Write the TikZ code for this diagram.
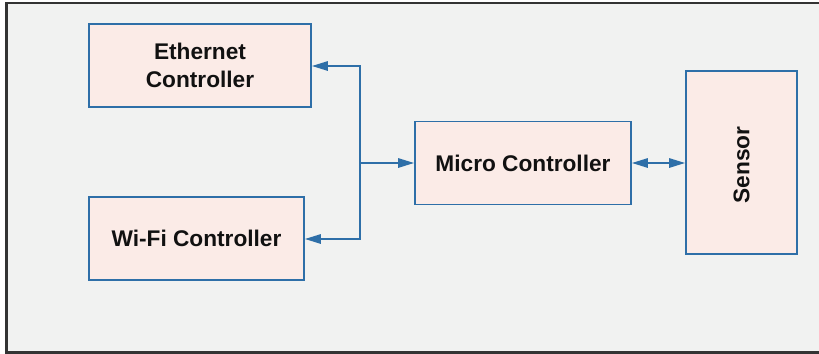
\documentclass[tikz,border=0pt]{standalone}
\usepackage{fontspec}
\setmainfont{Liberation Sans}
\usetikzlibrary{arrows.meta}
\definecolor{bgc}{HTML}{F1F2F1}
\definecolor{boxfill}{HTML}{FBEBE7}
\definecolor{edge}{HTML}{2E6FA8}
\definecolor{frame}{HTML}{333333}
\definecolor{txt}{HTML}{111111}
\begin{document}
\begin{tikzpicture}[x=0.75pt,y=-0.75pt,
  blockbox/.style={draw=edge,fill=boxfill,line width=1.3pt,inner sep=0pt,text=txt,
    font=\fontsize{17}{21}\selectfont\bfseries,align=center},
  conn/.style={draw=edge,line width=1.4pt,-{Triangle[length=12pt,width=7pt]}},
  dconn/.style={draw=edge,line width=1.4pt,{Triangle[length=12pt,width=7pt]}-{Triangle[length=12pt,width=7pt]}}]
\useasboundingbox (0,0) rectangle (819,354);
\fill[white] (0,0) rectangle (819,354);
\fill[bgc] (6.5,3) rectangle (819,352.5);
\draw[frame,line width=1.6pt] (819,3) -- (6.5,3) -- (6.5,352.5) -- (819,352.5);
\node[blockbox,minimum width=222*0.75pt,minimum height=83*0.75pt] (eth) at (200,65.5) {Ethernet\\Controller};
\node[blockbox,minimum width=215*0.75pt,minimum height=83*0.75pt] (wifi) at (196.5,238.5) {Wi-Fi Controller};
\node[blockbox,minimum width=216*0.75pt,minimum height=83*0.75pt] (mc) at (523,163) {Micro Controller};
\node[blockbox,minimum width=111*0.75pt,minimum height=183*0.75pt] (sen) at (741.5,162.5) {};
\node[text=txt,font=\fontsize{17}{21}\selectfont\bfseries,rotate=90] (sentxt) at (741.5,165) {Sensor};
\coordinate (j) at (360,163);
\coordinate (jt) at (360,66);
\coordinate (jb) at (360,239);
\draw[conn] (j) -- (mc.west);
\draw[conn] (j) -- (jt) -- (eth.east |- jt);
\draw[conn] (j) -- (jb) -- (wifi.east |- jb);
\draw[dconn] (mc.east) -- (sen.west |- mc.east);
\end{tikzpicture}
\end{document}
